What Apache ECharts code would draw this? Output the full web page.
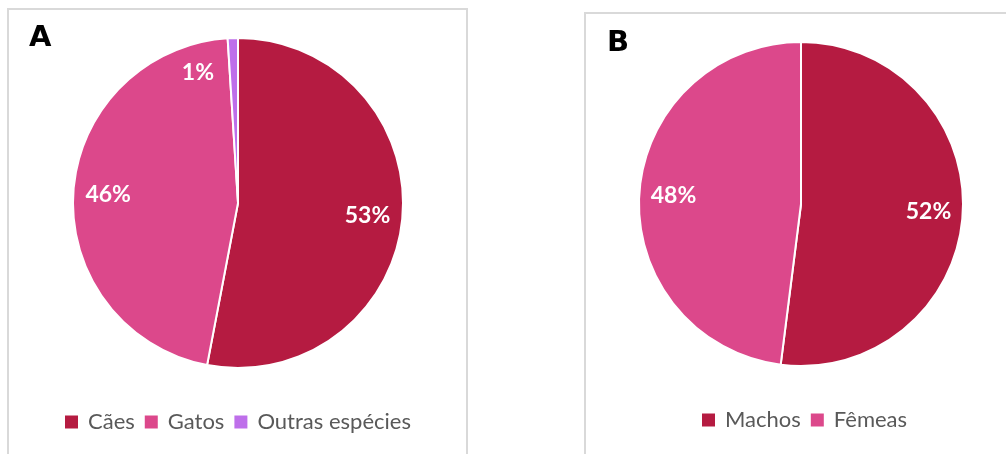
<!DOCTYPE html>
<html><head><meta charset="utf-8">
<script src="https://cdn.jsdelivr.net/npm/echarts@6/dist/echarts.min.js"></script>
<style>html,body{margin:0;padding:0;background:#fff}#c{width:1006px;height:454px}</style>
</head><body><div id="c"></div>
<script>
const catsA = ['Cães', 'Gatos', 'Outras espécies'];
const valsA = [53, 46, 1];
const catsB = ['Machos', 'Fêmeas'];
const valsB = [52, 48];
const colorsA = ['#B51B41', '#DC488B', '#BE6FEA'];
const colorsB = ['#B51B41', '#DC488B'];

const chart = echarts.init(document.getElementById('c'), null, {renderer: 'canvas'});
const font = 'Lato, "Open Sans", sans-serif';

function pieSeries(name, cats, vals, colors, center, R, offsets) {
  const data = cats.map((c, i) => ({name: c, value: vals[i], itemStyle: {color: colors[i]}}));
  const labelData = cats.map((c, i) => ({
    name: c, value: vals[i],
    label: offsets[i] ? {offset: offsets[i]} : undefined
  }));
  return [{
    type: 'pie', name: name, center: center, radius: [0, R],
    startAngle: 90, clockwise: true, silent: true,
    itemStyle: {borderColor: '#fff', borderWidth: 2},
    label: {show: false}, labelLine: {show: false},
    data: data
  }, {
    type: 'pie', name: name + 'L', center: center, radius: [R * 0.54, R],
    startAngle: 90, clockwise: true, silent: true, legendHoverLink: false,
    itemStyle: {color: 'rgba(0,0,0,0)', borderWidth: 0},
    label: {show: true, position: 'inside', color: '#fff', fontSize: 23, fontWeight: 'bold',
      fontFamily: font, formatter: p => Math.round(p.percent) + '%'},
    labelLine: {show: false},
    data: labelData
  }];
}

const legendText = {fontSize: 22, color: '#595959', fontFamily: font, padding: [0, 0, 0, 5]};
const legendBase = {
  icon: 'rect', itemWidth: 13, itemHeight: 13, itemGap: 10, padding: 0,
  itemStyle: {borderWidth: 0}, textStyle: legendText, selectedMode: false
};

chart.setOption({
  animation: false,
  graphic: [
    {type: 'rect', shape: {x: 8, y: 9, width: 459, height: 460}, style: {fill: 'none', stroke: '#d9d9d9', lineWidth: 2}, z: -1},
    {type: 'rect', shape: {x: 585, y: 13, width: 440, height: 460}, style: {fill: 'none', stroke: '#d9d9d9', lineWidth: 2}, z: -1},
    {type: 'text', left: 29, top: 24, style: {text: 'A', font: 'bold 29px "DejaVu Sans", Arial, sans-serif', fill: '#000'}},
    {type: 'text', left: 607, top: 29, style: {text: 'B', font: 'bold 29px "DejaVu Sans", Arial, sans-serif', fill: '#000'}}
  ],
  legend: [
    Object.assign({data: catsA, left: 65, top: 411}, legendBase),
    Object.assign({data: catsB, left: 702, top: 409}, legendBase)
  ],
  series: [
    ...pieSeries('A', catsA, valsA, colorsA, [238, 203], 165, [null, null, [-36, 0]]),
    ...pieSeries('B', catsB, valsB, colorsB, [801, 204], 162, [null, null])
  ]
});
</script></body></html>
